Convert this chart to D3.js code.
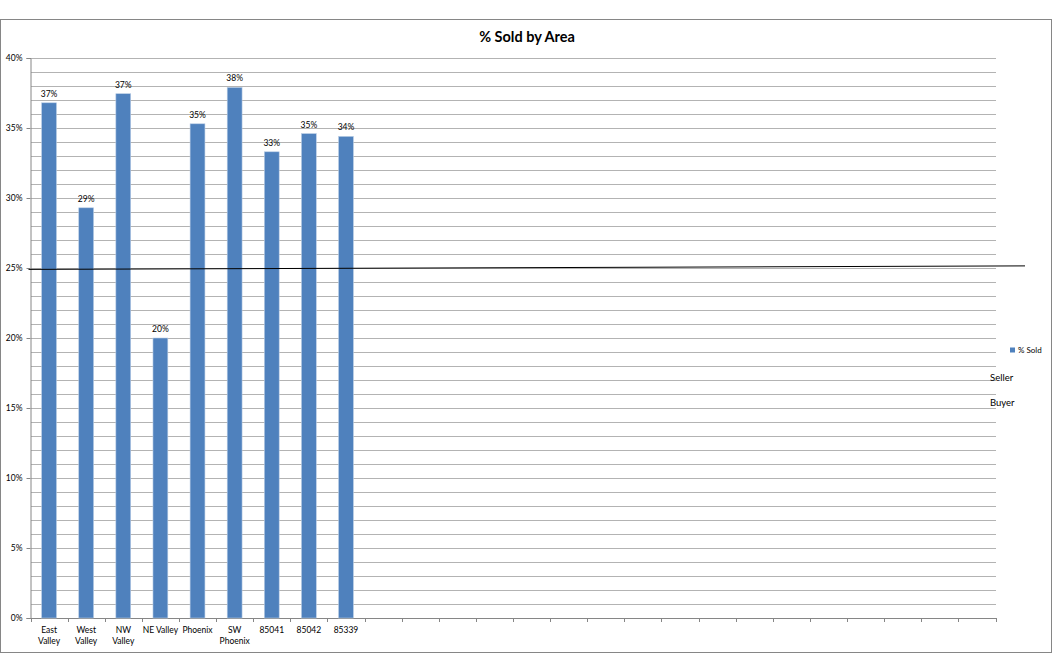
<!DOCTYPE html>
<html>
<head>
<meta charset="utf-8">
<script src="https://cdn.jsdelivr.net/npm/d3@7"></script>
<style>
    body { margin: 0; background: #fff; }
    svg { font-family: Lato, "Open Sans", sans-serif; }
    .tick-label { font-size: 8.5px; fill: #000; }
    .grid-line { stroke: #b3b3b3; stroke-width: 1; shape-rendering: crispEdges; }
    .axis-line { stroke: #868686; stroke-width: 1; shape-rendering: crispEdges; }
</style>
</head>
<body>
<div id="chart"></div>
<script>
// data
const categoryLines = [
    ["East", "Valley"], ["West", "Valley"], ["NW", "Valley"], ["NE Valley"],
    ["Phoenix"], ["SW", "Phoenix"], ["85041"], ["85042"], ["85339"]
];
const soldPercent = [36.8, 29.3, 37.45, 20.0, 35.3, 37.9, 33.3, 34.6, 34.4];
const blankSlots = 17;
const yTicks = [0, 5, 10, 15, 20, 25, 30, 35, 40];
const thresholdStart = 24.9;
const thresholdEnd = 25.15;
const legendLabels = ["% Sold"];
const sideNotes = ["Seller", "Buyer"];

function renderChart() {
    const width = 1055;
    const height = 659;
    const plotLeft = 30.5;
    const plotRight = 995.5;
    const plotTop = 58;
    const plotBottom = 618;
    const barColor = "#4f81bd";

    const svg = d3.select("#chart").append("svg")
        .attr("width", width)
        .attr("height", height);

    // chart frame
    svg.append("rect")
        .attr("x", 0.5).attr("y", 19.5)
        .attr("width", 1051).attr("height", 633)
        .attr("fill", "#fff")
        .attr("stroke", "#868686");

    // title
    svg.append("text")
        .attr("x", 527).attr("y", 42)
        .attr("text-anchor", "middle")
        .style("font-size", "14.5px")
        .style("font-weight", "bold")
        .text("% Sold by Area");

    const slotCount = categoryLines.length + blankSlots;
    const xScale = d3.scaleBand()
        .domain(d3.range(slotCount))
        .range([plotLeft, plotRight])
        .paddingInner(0.6)
        .paddingOuter(0.3);

    const yScale = d3.scaleLinear()
        .domain([0, 40])
        .range([plotBottom, plotTop]);

    // gridlines every 1%
    svg.append("g")
        .selectAll("line")
        .data(d3.range(1, 41))
        .join("line")
        .attr("class", "grid-line")
        .attr("x1", plotLeft).attr("x2", plotRight)
        .attr("y1", function (d) { return Math.round(yScale(d)) + 0.5; })
        .attr("y2", function (d) { return Math.round(yScale(d)) + 0.5; });

    // y-axis
    const yAxis = svg.append("g")
        .attr("transform", `translate(${plotLeft}, 0)`)
        .call(d3.axisLeft(yScale)
            .tickValues(yTicks)
            .tickSize(4)
            .tickFormat(function (d) { return d + "%"; }));
    yAxis.select(".domain").attr("stroke", "#868686");
    yAxis.selectAll(".tick line").attr("stroke", "#868686");
    yAxis.selectAll(".tick text")
        .attr("class", "tick-label")
        .attr("x", -8)
        .style("font-family", "Lato, 'Open Sans', sans-serif");

    // x-axis (category boundaries as ticks)
    const step = xScale.step();
    const boundaries = d3.range(slotCount + 1);
    svg.append("line")
        .attr("class", "axis-line")
        .attr("x1", plotLeft).attr("x2", plotRight)
        .attr("y1", plotBottom + 0.5).attr("y2", plotBottom + 0.5);
    svg.append("g")
        .selectAll("line")
        .data(boundaries)
        .join("line")
        .attr("class", "axis-line")
        .attr("x1", function (d) { return Math.round(plotLeft + d * step) + 0.5; })
        .attr("x2", function (d) { return Math.round(plotLeft + d * step) + 0.5; })
        .attr("y1", plotBottom).attr("y2", plotBottom + 4);

    // category labels
    const labelGroups = svg.append("g")
        .selectAll("text")
        .data(categoryLines)
        .join("text")
        .attr("class", "tick-label")
        .attr("text-anchor", "middle")
        .attr("transform", function (d, i) {
            return `translate(${xScale(i) + xScale.bandwidth() / 2}, ${plotBottom + 15})`;
        });
    labelGroups.selectAll("tspan")
        .data(function (d) { return d; })
        .join("tspan")
        .attr("x", 0)
        .attr("dy", function (d, i) { return i === 0 ? 0 : 11; })
        .text(function (d) { return d; });

    // bars
    svg.append("g")
        .selectAll("rect")
        .data(soldPercent)
        .join("rect")
        .attr("x", function (d, i) { return xScale(i); })
        .attr("y", function (d) { return yScale(d); })
        .attr("width", xScale.bandwidth())
        .attr("height", function (d) { return yScale(0) - yScale(d); })
        .attr("fill", barColor)
        .attr("stroke", "#b9cde5")
        .attr("stroke-width", 0.6);

    // data labels
    svg.append("g")
        .selectAll("text")
        .data(soldPercent)
        .join("text")
        .attr("class", "tick-label")
        .attr("text-anchor", "middle")
        .attr("x", function (d, i) { return xScale(i) + xScale.bandwidth() / 2; })
        .attr("y", function (d) { return yScale(d) - 6; })
        .text(function (d) { return Math.round(d) + "%"; });

    // 25% line drawn across the chart
    svg.append("line")
        .attr("x1", plotLeft - 2)
        .attr("y1", yScale(thresholdStart))
        .attr("x2", 1025)
        .attr("y2", yScale(thresholdEnd))
        .attr("stroke", "#000")
        .attr("stroke-width", 1);

    // legend
    const legend = svg.append("g")
        .attr("transform", "translate(1010, 347.5)");
    legend.selectAll("rect")
        .data(legendLabels)
        .join("rect")
        .attr("x", 0).attr("y", function (d, i) { return i * 12; })
        .attr("width", 5).attr("height", 5)
        .attr("fill", barColor);
    legend.selectAll("text")
        .data(legendLabels)
        .join("text")
        .attr("x", 8).attr("y", function (d, i) { return i * 12 + 5.5; })
        .style("font-size", "8px")
        .text(function (d) { return d; });

    svg.append("g")
        .selectAll("text")
        .data(sideNotes)
        .join("text")
        .attr("x", 990)
        .attr("y", function (d, i) { return 381 + i * 25; })
        .style("font-size", "9.5px")
        .text(function (d) { return d; });
}

renderChart();
</script>
</body>
</html>
